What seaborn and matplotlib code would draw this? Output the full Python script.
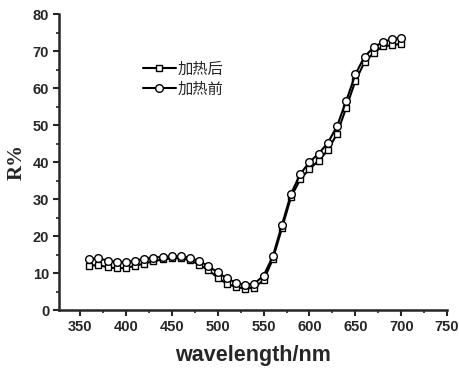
import numpy as np
import pandas as pd
import matplotlib
matplotlib.use("Agg")
import matplotlib.pyplot as plt
from matplotlib.ticker import MultipleLocator
import seaborn as sns

wavelength = list(range(360, 710, 10))
after_heat = [12.0, 12.2, 11.6, 11.3, 11.4, 12.0, 12.6, 13.2, 13.7, 14.0,
              14.0, 13.5, 12.3, 10.8, 8.8, 7.1, 6.3, 5.8, 6.1, 8.1,
              13.7, 22.1, 30.6, 35.4, 38.1, 40.4, 43.2, 47.6, 54.7, 61.9,
              67.0, 69.5, 71.3, 71.6, 72.0]
before_heat = [13.7, 14.0, 13.4, 13.0, 13.0, 13.3, 13.9, 14.2, 14.4, 14.5,
               14.5, 14.2, 13.2, 11.9, 10.2, 8.6, 7.4, 6.8, 7.2, 9.3,
               14.5, 23.0, 31.5, 36.8, 40.0, 42.3, 45.2, 49.7, 56.5, 63.7,
               68.5, 71.0, 72.5, 73.2, 73.6]
x_ticks = [350, 400, 450, 500, 550, 600, 650, 700, 750]
y_ticks = [0, 10, 20, 30, 40, 50, 60, 70, 80]

sns.set_style("ticks")
plt.rcParams["font.family"] = ["Liberation Sans", "Noto Sans CJK SC", "DejaVu Sans"]

df = pd.DataFrame({"wavelength": wavelength, "后": after_heat, "前": before_heat})

fig = plt.figure(figsize=(4.6, 3.71), dpi=100)
ax = fig.add_axes([0.128, 0.164, 0.844, 0.798])

sns.lineplot(data=df, x="wavelength", y="后", ax=ax, color="black", lw=1.5,
             marker="s", markersize=5, markerfacecolor="white",
             markeredgecolor="black", markeredgewidth=1.0, label="加热后")
sns.lineplot(data=df, x="wavelength", y="前", ax=ax, color="black", lw=1.5,
             marker="o", markersize=5.5, markerfacecolor="white",
             markeredgecolor="black", markeredgewidth=1.0, label="加热前")

ax.set_xlim(327, 750)
ax.set_ylim(0, 80)
ax.set_xticks(x_ticks)
ax.set_yticks(y_ticks)
ax.xaxis.set_minor_locator(MultipleLocator(25))
ax.yaxis.set_minor_locator(MultipleLocator(5))
ax.tick_params(which="major", length=4, width=1.5, labelsize=10.5, pad=3)
ax.tick_params(which="minor", length=2.5, width=1.2)
for lab in ax.get_xticklabels() + ax.get_yticklabels():
    lab.set_fontweight("bold")

sns.despine(ax=ax)
for s in ["left", "bottom"]:
    ax.spines[s].set_linewidth(1.8)

ax.set_xlabel("wavelength/nm", fontsize=15.5, fontweight="heavy", labelpad=8)
ax.set_ylabel("R%", fontsize=15, fontweight="bold", family="Liberation Serif",
              labelpad=4)

leg = ax.legend(loc="upper left", bbox_to_anchor=(0.18, 0.89), frameon=False,
                handlelength=2.2, handletextpad=0.1, labelspacing=0.2,
                prop={"family": ["Noto Sans CJK SC"], "size": 11})

fig.savefig("out.png", dpi=100)
